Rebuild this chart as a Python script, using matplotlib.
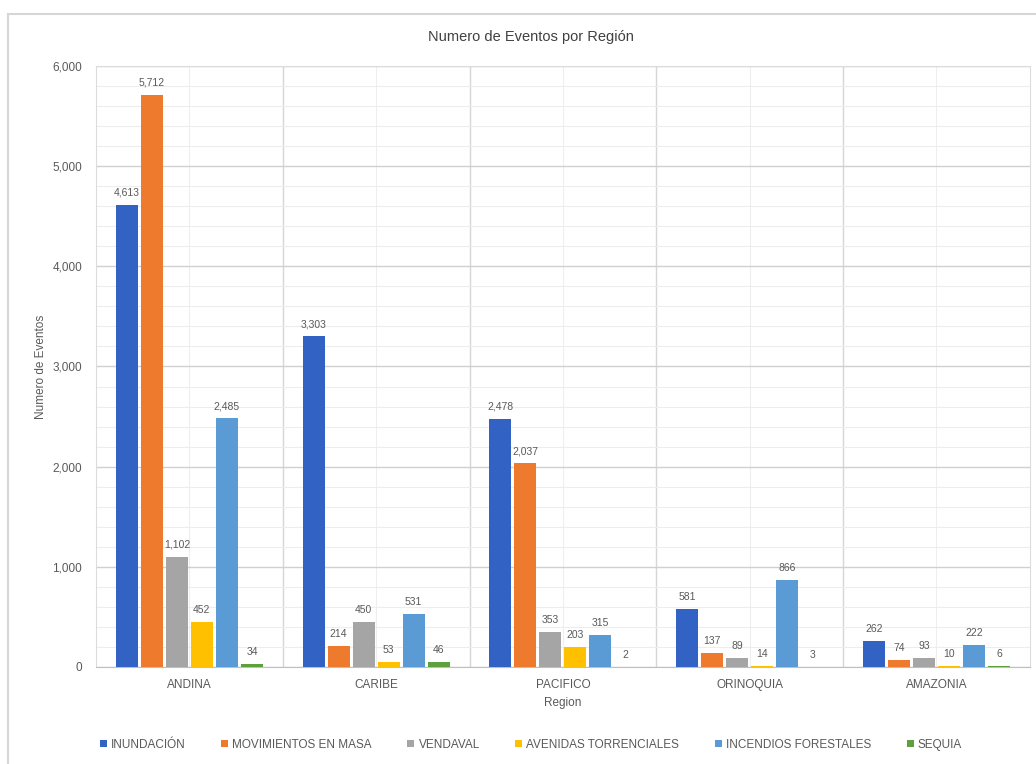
import numpy as np
import matplotlib
matplotlib.use("Agg")
from matplotlib import pyplot as plt
from matplotlib.patches import Rectangle
from matplotlib.ticker import FuncFormatter, MultipleLocator

plt.rcParams['font.family'] = ['Liberation Sans', 'DejaVu Sans']

regions = ["ANDINA", "CARIBE", "PACIFICO", "ORINOQUIA", "AMAZONIA"]
series_names = ["INUNDACIÓN", "MOVIMIENTOS EN MASA", "VENDAVAL",
                "AVENIDAS TORRENCIALES", "INCENDIOS FORESTALES", "SEQUIA"]
inundacion = [4613, 3303, 2478, 581, 262]
movimientos = [5712, 214, 2037, 137, 74]
vendaval = [1102, 450, 353, 89, 93]
avenidas = [452, 53, 203, 14, 10]
incendios = [2485, 531, 315, 866, 222]
sequia = [34, 46, 2, 3, 6]
colors = ["#3262C4", "#EE7A2D", "#A5A5A5", "#FFC000", "#5B9BD5", "#5FA03E"]

all_series = [inundacion, movimientos, vendaval, avenidas, incendios, sequia]

fig = plt.figure(figsize=(10.36, 7.64), dpi=100)
ax = fig.add_axes([0.0927, 0.127, 0.9013, 0.7866])

# outer chart frame
fig.patches.append(Rectangle((8 / 1036, -0.1), 1.2, (764 - 14) / 764 + 0.1,
                             transform=fig.transFigure, fill=False,
                             edgecolor="#d6d6d6", linewidth=1.5))

x = np.arange(len(regions))
step = 0.134
width = 0.118
label_color = "#595959"

for i, (name, vals, c) in enumerate(zip(series_names, all_series, colors)):
    pos = x + (i - 2.5) * step
    bars = ax.bar(pos, vals, width=width, color=c, label=name, zorder=3)
    for b, v in zip(bars, vals):
        ax.annotate(f"{v:,}", (b.get_x() + b.get_width() / 2, v),
                    xytext=(0, 5), textcoords="offset points",
                    ha="center", va="bottom", fontsize=7.5, color=label_color)

ax.set_xlim(-0.5, len(regions) - 0.5)
ax.set_ylim(0, 6000)
ax.yaxis.set_major_locator(MultipleLocator(1000))
ax.yaxis.set_minor_locator(MultipleLocator(200))
ax.yaxis.set_major_formatter(FuncFormatter(lambda v, p: f"{int(v):,}"))
ax.set_xticks(x)
ax.set_xticklabels(regions)
ax.set_xticks(np.arange(-0.5, len(regions), 0.5), minor=True)

ax.grid(axis="y", which="major", color="#d0d0d0", linewidth=1.0, zorder=0)
ax.grid(axis="y", which="minor", color="#ededed", linewidth=0.8, zorder=0)
for xv in np.arange(0.5, len(regions) - 0.5, 1):
    ax.axvline(xv, color="#d6d6d6", linewidth=1.0, zorder=0)
for xv in np.arange(0, len(regions), 1):
    ax.axvline(xv, color="#eeeeee", linewidth=0.8, zorder=0)

for s in ["top", "right", "left"]:
    ax.spines[s].set_color("#dcdcdc")
ax.spines["bottom"].set_color("#bfbfbf")

ax.tick_params(axis="both", which="both", length=0, colors=label_color, labelsize=8.5)
ax.tick_params(axis="y", pad=10)
ax.tick_params(axis="x", pad=9)

fig.text(0.5125, 0.951, "Numero de Eventos por Región", fontsize=10.5,
         color="#404040", ha="center", va="center")
ax.set_ylabel("Numero de Eventos", fontsize=8.5, color=label_color, labelpad=4)
ax.set_xlabel("Region", fontsize=8.5, color=label_color, labelpad=4)

leg = fig.legend(loc="center", bbox_to_anchor=(0.5125, 0.025), ncol=6, frameon=False,
                 fontsize=8.5, handlelength=0.6, handleheight=0.6,
                 handletextpad=0.35, columnspacing=3.0)
for t in leg.get_texts():
    t.set_color(label_color)

fig.savefig("out.png", dpi=100)
